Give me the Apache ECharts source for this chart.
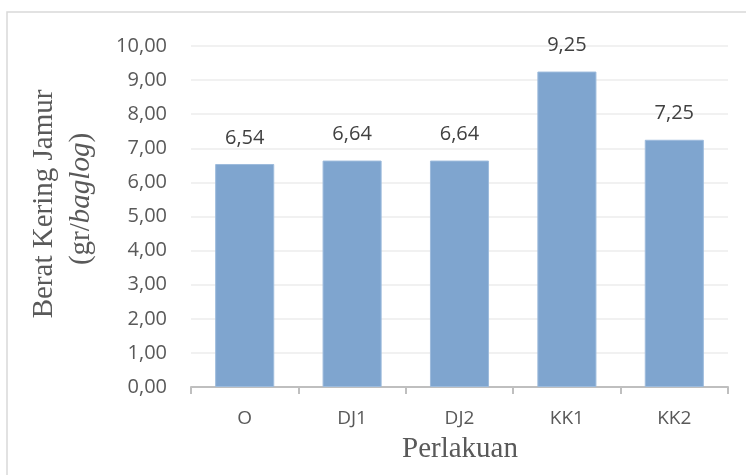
<!DOCTYPE html>
<html><head><meta charset="utf-8">
<script src="https://cdn.jsdelivr.net/npm/echarts@6/dist/echarts.min.js"></script>
<style>html,body{margin:0;padding:0;background:#fff}#c{width:746px;height:475px}</style>
</head><body><div id="c"></div>
<script>
const categories = ['O', 'DJ1', 'DJ2', 'KK1', 'KK2'];
const values = [6.54, 6.64, 6.64, 9.25, 7.25];
const yTicks = [0, 1, 2, 3, 4, 5, 6, 7, 8, 9, 10];
const xTitle = 'Perlakuan';
const yTitle1 = 'Berat Kering Jamur';

const fmt = v => v.toFixed(2).replace('.', ',');
const chart = echarts.init(document.getElementById('c'), null, {renderer: 'canvas'});
chart.setOption({
  animation: false,
  backgroundColor: '#fff',
  grid: {left: 191, right: 18, top: 46, bottom: 88},
  xAxis: {
    type: 'category', data: categories,
    axisLine: {lineStyle: {color: '#bfbfbf', width: 2}},
    axisTick: {show: true, length: 7, lineStyle: {color: '#bfbfbf', width: 2}},
    axisLabel: {color: '#595959', fontSize: 19, fontFamily: 'Open Sans', margin: 22}
  },
  yAxis: {
    type: 'value', min: yTicks[0], max: yTicks[yTicks.length - 1], interval: 1,
    axisLine: {show: false}, axisTick: {show: false},
    splitLine: {lineStyle: {color: '#ececec', width: 1.5}},
    axisLabel: {color: '#595959', fontSize: 20, fontFamily: 'Open Sans', margin: 24, formatter: v => fmt(v)}
  },
  series: [{
    type: 'bar', data: values, barWidth: '55%',
    itemStyle: {color: '#7fa5cf', borderColor: '#9dbbdc', borderWidth: 1},
    label: {show: true, position: 'top', distance: 16, color: '#404040', fontSize: 20, fontFamily: 'Open Sans', formatter: p => fmt(p.value)}
  }],
  graphic: [
    {type: 'rect', shape: {x: 7, y: 12, width: 760, height: 480}, style: {fill: 'none', stroke: '#d9d9d9', lineWidth: 1.5}, z: -1},
    {type: 'text', x: 460, y: 449, style: {text: xTitle, font: '29px "Liberation Serif"', fill: '#595959', textAlign: 'center', textVerticalAlign: 'middle'}},
    {type: 'text', x: 44, y: 204, rotation: Math.PI / 2, style: {text: yTitle1, font: '29px "Liberation Serif"', fill: '#595959', textAlign: 'center', textVerticalAlign: 'middle'}},
    {type: 'text', x: 81, y: 199, rotation: Math.PI / 2, style: {
      text: '{n|(gr/}{i|baglog}{n|)}', textAlign: 'center', textVerticalAlign: 'middle',
      rich: {n: {font: '29px "Liberation Serif"', fill: '#595959'}, i: {font: 'italic 29px "Liberation Serif"', fill: '#595959'}}
    }}
  ]
});
</script></body></html>
